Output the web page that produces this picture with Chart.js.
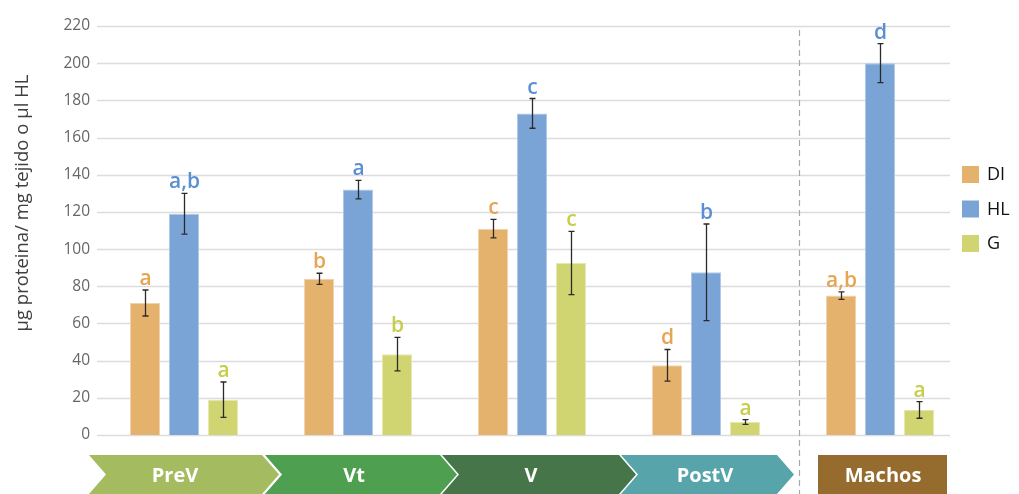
<!DOCTYPE html>
<html><head><meta charset="utf-8">
<script src="https://cdn.jsdelivr.net/npm/chart.js@4.4.1/dist/chart.umd.min.js"></script>
<style>html,body{margin:0;padding:0;background:#fff;}#wrap{width:1019px;height:494px;position:relative}</style>
</head><body><div id="wrap"><canvas id="c" width="1019" height="494"></canvas></div>
<script>
// Groups and series
const categories = ['PreV', 'Vt', 'V', 'PostV', 'Machos'];
const seriesNames = ['DI', 'HL', 'G'];

// Mean values per group
const diValues = [71, 84, 111, 37.5, 75];
const hlValues = [119, 132, 173, 87.5, 200];
const gValues  = [19, 43.5, 92.5, 7, 13.5];

// Error (± half-range) per group
const diErrors = [7, 3, 5, 8.5, 2];
const hlErrors = [11, 5, 8, 26, 10.5];
const gErrors  = [9.5, 9, 17, 1.3, 4.5];

// Significance letters
const diLetters = ['a', 'b', 'c', 'd', 'a,b'];
const hlLetters = ['a,b', 'a', 'c', 'b', 'd'];
const gLetters  = ['a', 'b', 'c', 'a', 'a'];

// Y axis ticks
const yTicks = [0, 20, 40, 60, 80, 100, 120, 140, 160, 180, 200, 220];
const yTitle = 'µg proteina/ mg tejido o µl HL';

const FONT = '"Open Sans", "DejaVu Sans", sans-serif';

const barFills   = ['rgba(229,178,110,1)', 'rgba(122,164,214,1)', 'rgba(208,212,113,1)'];
const barEdges   = ['rgba(242,210,170,1)', 'rgba(175,200,232,1)', 'rgba(230,232,175,1)'];
const letterCols = ['#e6a552', '#5b8fd1', '#c8cd4b'];

const allErrors  = [diErrors, hlErrors, gErrors];
const allLetters = [diLetters, hlLetters, gLetters];

// Gridlines, stopping short of the legend
const gridPlugin = {
  id: 'grid',
  beforeDatasetsDraw(chart) {
    const { ctx, scales: { y }, chartArea } = chart;
    ctx.save();
    ctx.strokeStyle = '#dcdcdc';
    ctx.lineWidth = 1.6;
    yTicks.forEach(v => {
      const py = Math.round(y.getPixelForValue(v)) + 0.5;
      ctx.beginPath();
      ctx.moveTo(chartArea.left, py);
      ctx.lineTo(950, py);
      ctx.stroke();
    });
    ctx.restore();
  }
};

// Error bars and letters above each bar
const errorPlugin = {
  id: 'errors',
  afterDatasetsDraw(chart) {
    const { ctx, scales: { y } } = chart;
    ctx.save();
    chart.data.datasets.forEach((ds, di) => {
      const meta = chart.getDatasetMeta(di);
      meta.data.forEach((bar, i) => {
        const v = ds.data[i];
        const e = allErrors[di][i];
        const x = Math.round(bar.x) + 0.5;
        const yt = y.getPixelForValue(v + e);
        const yb = y.getPixelForValue(v - e);
        ctx.strokeStyle = '#2a2a2a';
        ctx.lineWidth = 1.3;
        ctx.beginPath();
        ctx.moveTo(x, yt); ctx.lineTo(x, yb);
        ctx.moveTo(x - 3, yt); ctx.lineTo(x + 3, yt);
        ctx.moveTo(x - 3, yb); ctx.lineTo(x + 3, yb);
        ctx.stroke();
        ctx.fillStyle = letterCols[di];
        ctx.font = '600 21px ' + FONT;
        ctx.textAlign = 'center';
        ctx.textBaseline = 'alphabetic';
        ctx.fillText(allLetters[di][i], x, yt - 5);
      });
    });
    ctx.restore();
  }
};

// Legend, axis title, separator and stage banners
const decorPlugin = {
  id: 'decor',
  afterDraw(chart) {
    const { ctx } = chart;
    ctx.save();
    // legend
    chart.data.datasets.forEach((ds, di) => {
      const top = 166 + di * 34.5;
      ctx.fillStyle = barFills[di];
      ctx.fillRect(962, top, 17, 17);
      ctx.fillStyle = '#111';
      ctx.font = '18px ' + FONT;
      ctx.textAlign = 'left';
      ctx.textBaseline = 'middle';
      ctx.fillText(ds.label, 987, top + 9);
    });
    // y title
    ctx.save();
    ctx.translate(23, 203);
    ctx.rotate(-Math.PI / 2);
    ctx.fillStyle = '#3f3f3f';
    ctx.font = '18.5px ' + FONT;
    ctx.textAlign = 'center';
    ctx.textBaseline = 'middle';
    ctx.fillText(yTitle, 0, 0);
    ctx.restore();
    // dashed separator
    ctx.strokeStyle = '#a8a8a8';
    ctx.lineWidth = 1.2;
    ctx.setLineDash([6, 4]);
    ctx.beginPath();
    ctx.moveTo(799.5, 30); ctx.lineTo(799.5, 494);
    ctx.stroke();
    ctx.setLineDash([]);
    // stage banners
    const t = 455, b = 494, m = (t + b) / 2, d = 17;
    const chevrons = [
      { l: 89,  r: 262, c: '#a5bb5f' },
      { l: 265, r: 440, c: '#4f9f50' },
      { l: 442, r: 619, c: '#467549' },
      { l: 621, r: 777, c: '#57a5ab' }
    ];
    chevrons.forEach(s => {
      ctx.fillStyle = s.c;
      ctx.beginPath();
      ctx.moveTo(s.l, t);
      ctx.lineTo(s.r, t);
      ctx.lineTo(s.r + d, m);
      ctx.lineTo(s.r, b);
      ctx.lineTo(s.l, b);
      ctx.lineTo(s.l + d, m);
      ctx.closePath();
      ctx.fill();
    });
    ctx.fillStyle = '#956c2e';
    ctx.fillRect(818, t, 129, b - t);
    ctx.fillStyle = '#fff';
    ctx.font = 'bold 20px ' + FONT;
    ctx.textAlign = 'center';
    ctx.textBaseline = 'middle';
    const labelX = [175, 354, 531, 705, 883];
    categories.forEach((c, i) => ctx.fillText(c, labelX[i], m + 2));
    ctx.restore();
  }
};

new Chart(document.getElementById('c'), {
  type: 'bar',
  data: {
    labels: categories,
    datasets: [
      { label: seriesNames[0], data: diValues, backgroundColor: barFills[0], borderColor: barEdges[0], borderWidth: 1 },
      { label: seriesNames[1], data: hlValues, backgroundColor: barFills[1], borderColor: barEdges[1], borderWidth: 1 },
      { label: seriesNames[2], data: gValues,  backgroundColor: barFills[2], borderColor: barEdges[2], borderWidth: 1 }
    ]
  },
  options: {
    responsive: false,
    animation: false,
    devicePixelRatio: 1,
    categoryPercentage: 0.672,
    barPercentage: 0.77,
    layout: { padding: { left: 0, right: 52, top: 26, bottom: 59 } },
    plugins: { legend: { display: false }, tooltip: { enabled: false } },
    scales: {
      x: {
        display: true,
        grid: { display: false, drawTicks: false },
        border: { display: false },
        ticks: { display: false }
      },
      y: {
        min: 0, max: 220,
        afterFit(scale) { scale.width = 97; },
        afterBuildTicks(scale) { scale.ticks = yTicks.map(v => ({ value: v })); },
        grid: { display: false, drawTicks: false },
        border: { display: false },
        ticks: { padding: 7, color: '#666', font: { family: FONT, size: 15.5 } }
      }
    }
  },
  plugins: [gridPlugin, errorPlugin, decorPlugin]
});
</script>
</body></html>
